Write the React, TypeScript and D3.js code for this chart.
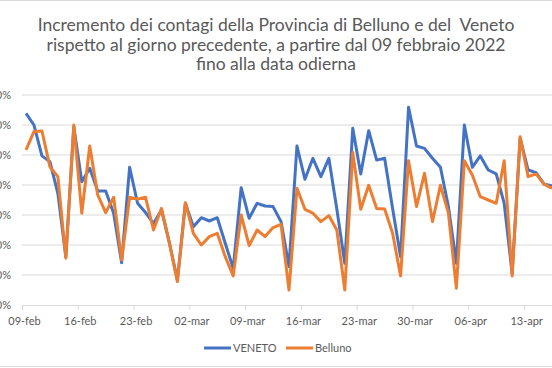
import { useEffect, useRef } from 'react';
import * as d3 from 'd3';

// categorie: giorni dal 09 febbraio 2022 al 16 aprile 2022
const startDate = new Date(2022, 1, 9);
const endDate = new Date(2022, 3, 17);
const days = d3.timeDay.range(startDate, endDate);

const tickLabels = ['09-feb', '16-feb', '23-feb', '02-mar', '09-mar', '16-mar', '23-mar', '30-mar', '06-apr', '13-apr'];
const yTicks = [0, 10, 20, 30, 40, 50, 60, 70];

// incremento % rispetto al giorno precedente
const veneto = [
  63.9, 60, 49.7, 47.8, 37.2, 16.1, 59.4, 41.1, 45.6, 38, 38, 30.6, 14.1, 45.9, 33.9,
  30.8, 27.2, 31.7, 20.6, 8.3, 33.9, 26.1, 29.1, 28, 29.1, 20.6, 12.2, 39.1, 28.9, 33.9,
  33, 32.8, 27.8, 12.8, 53, 41.9, 48.9, 42.8, 48.9, 32, 13.9, 58.9, 43.7, 58.1, 48.3,
  48.9, 32.2, 16.1, 65.9, 53, 52.2, 48.9, 45.9, 32.8, 13.9, 60, 45.9, 49.7, 45, 43.7,
  33.9, 10.5, 55.6, 45, 44.1, 40.3, 39.7,
];
const belluno = [
  51.7, 57.8, 58, 46.1, 42.8, 15.6, 60, 30.6, 53, 36.7, 30.8, 35.9, 15, 35.9, 35.3,
  35.9, 25, 32.2, 20.6, 7.8, 34.1, 23.9, 20, 22.8, 23.9, 16.1, 9.7, 30, 19.8, 25,
  22.8, 25.8, 26.9, 5, 38.9, 31.9, 30.6, 27.8, 29.8, 25, 5, 50.8, 31.9, 39.9, 32.2,
  32, 23.9, 9.7, 48.1, 32.8, 43.9, 27.8, 39.9, 30.6, 5.6, 48.1, 43.3, 36.1, 35, 33.9,
  48.1, 9.7, 56.1, 42.8, 43.7, 40.3, 38.9,
];

const titleLines = [
  'Incremento dei contagi della Provincia di Belluno e del  Veneto',
  'rispetto al giorno precedente, a partire dal 09 febbraio 2022',
  'fino alla data odierna',
];

const W = 552;
const H = 368;
const FONT = 'Lato, "Open Sans", sans-serif';

export default function App() {
  const ref = useRef<SVGSVGElement>(null);

  useEffect(() => {
    if (!ref.current) return;
    const svg = d3.select(ref.current);
    svg.selectAll('*').remove();

    const fmt = d3.timeFormat('%d-%b');
    const months: Record<string, string> = { Feb: 'feb', Mar: 'mar', Apr: 'apr' };
    const label = (d: Date) => {
      const s = fmt(d);
      return s.slice(0, 3) + months[s.slice(3)];
    };
    const keys = days.map(label);

    const x = d3.scaleBand<string>()
      .domain(keys)
      .range([22, 22 + keys.length * 7.97]);
    const y = d3.scaleLinear().domain([0, 70]).range([305, 95]);

    // bordo del grafico
    svg.append('rect')
      .attr('x', -10).attr('y', 0.5)
      .attr('width', W + 20).attr('height', H - 2)
      .attr('fill', '#fff')
      .attr('stroke', '#d9d9d9');

    // titolo
    svg.append('g')
      .selectAll('text')
      .data(titleLines)
      .enter()
      .append('text')
      .attr('x', 276)
      .attr('y', (_, i) => 31 + i * 19.5)
      .attr('text-anchor', 'middle')
      .attr('fill', '#595959')
      .style('font-family', FONT)
      .style('font-size', '17.5px')
      .style('white-space', 'pre')
      .text(d => d);

    // griglia
    svg.append('g')
      .selectAll('line')
      .data(yTicks.slice(1))
      .enter()
      .append('line')
      .attr('x1', 22).attr('x2', W + 10)
      .attr('y1', d => y(d)).attr('y2', d => y(d))
      .attr('stroke', '#d9d9d9');

    // asse Y (etichette tagliate a sinistra, come nell'originale)
    svg.append('g')
      .selectAll('text')
      .data(yTicks)
      .enter()
      .append('text')
      .attr('x', 11)
      .attr('y', d => y(d) + 4)
      .attr('text-anchor', 'end')
      .attr('fill', '#595959')
      .style('font-family', FONT)
      .style('font-size', '11px')
      .text(d => d + '%');

    // asse X
    const xAxis = svg.append('g')
      .attr('transform', `translate(0,${y(0)})`)
      .call(d3.axisBottom(x).tickValues(tickLabels).tickSize(5).tickSizeOuter(0).tickFormat(d => d as string));
    xAxis.select('.domain').attr('stroke', '#d9d9d9').attr('d', `M22,0.5H${W + 10}`);
    xAxis.selectAll('.tick').attr('transform', d => `translate(${(x(d as string) ?? 0) + 0.5},0)`);
    xAxis.selectAll('.tick line').attr('stroke', '#d9d9d9');
    xAxis.selectAll('.tick text')
      .attr('fill', '#595959')
      .attr('dx', 2)
      .attr('dy', '1.1em')
      .style('font-family', FONT)
      .style('font-size', '11px');

    // linee
    const cx = (i: number) => (x(keys[i]) ?? 0) + x.bandwidth() / 2;
    const line = d3.line<number>()
      .x((_, i) => cx(i))
      .y(d => y(d));

    const series = [
      { name: 'VENETO', values: veneto, color: '#4472C4' },
      { name: 'Belluno', values: belluno, color: '#ED7D31' },
    ];

    svg.append('g')
      .selectAll('path')
      .data(series)
      .enter()
      .append('path')
      .attr('d', d => line(d.values))
      .attr('fill', 'none')
      .attr('stroke', d => d.color)
      .attr('stroke-width', 3)
      .attr('stroke-linejoin', 'round');

    // legenda
    const legend = svg.append('g').attr('transform', 'translate(0,348)');
    const lx = [204, 286];
    series.forEach((s, i) => {
      legend.append('line')
        .attr('x1', lx[i]).attr('x2', lx[i] + 27)
        .attr('y1', 0).attr('y2', 0)
        .attr('stroke', s.color)
        .attr('stroke-width', 3);
      legend.append('text')
        .attr('x', lx[i] + 29)
        .attr('y', 4)
        .attr('fill', '#595959')
        .style('font-family', FONT)
        .style('font-size', '11px')
        .text(s.name);
    });
  }, []);

  return (
    <svg
      ref={ref}
      width={W}
      height={H}
      style={{ position: 'absolute', left: 0, top: 0, background: '#fff' }}
    />
  );
}
